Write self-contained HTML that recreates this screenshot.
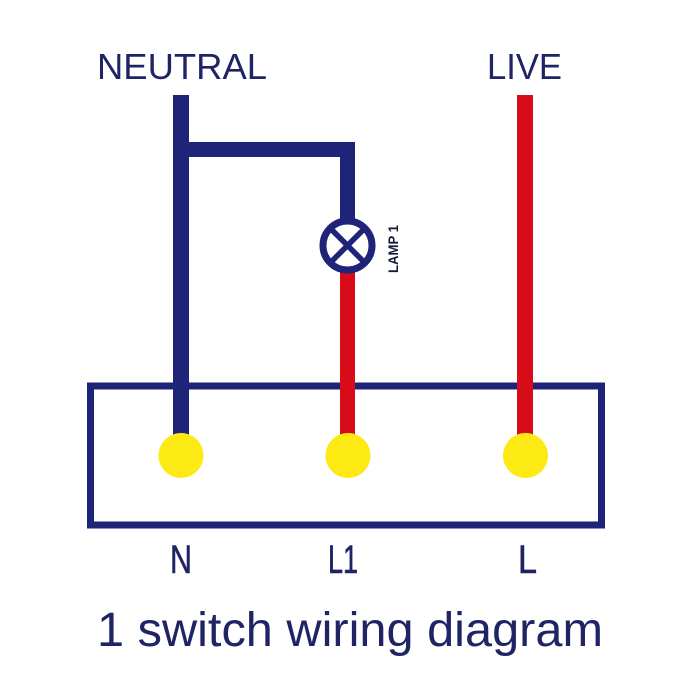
<!DOCTYPE html>
<html>
<head>
<meta charset="utf-8">
<style>
html,body{margin:0;padding:0;background:#fff;}
svg{display:block;}
text{font-family:"Liberation Sans",sans-serif;fill:#1f2465;}
</style>
</head>
<body>
<svg width="700" height="700" viewBox="0 0 700 700" xmlns="http://www.w3.org/2000/svg">
  <rect x="0" y="0" width="700" height="700" fill="#fff"/>
  <!-- titles -->
  <text x="97" y="79" font-size="36" textLength="170" lengthAdjust="spacingAndGlyphs">NEUTRAL</text>
  <text x="487" y="79" font-size="36" textLength="75" lengthAdjust="spacingAndGlyphs">LIVE</text>

  <!-- box -->
  <rect x="90.5" y="386" width="511" height="139" fill="none" stroke="#1e2478" stroke-width="7"/>

  <!-- neutral wire -->
  <rect x="173" y="95" width="16" height="345" fill="#1e2478"/>
  <rect x="173" y="142" width="182" height="15" fill="#1e2478"/>
  <rect x="340" y="142" width="15" height="84" fill="#1e2478"/>

  <!-- red L1 wire -->
  <rect x="340" y="268" width="15" height="172" fill="#d70c18"/>
  <!-- live wire -->
  <rect x="517" y="95" width="16" height="345" fill="#d70c18"/>

  <!-- lamp -->
  <circle cx="347.5" cy="245.5" r="24.5" fill="#fff" stroke="#1e2478" stroke-width="7"/>
  <line x1="330.5" y1="228.5" x2="364.5" y2="262.5" stroke="#1e2478" stroke-width="5.5"/>
  <line x1="364.5" y1="228.5" x2="330.5" y2="262.5" stroke="#1e2478" stroke-width="5.5"/>
  <text transform="translate(398,273) rotate(-90)" font-size="14" font-weight="bold" textLength="48" lengthAdjust="spacingAndGlyphs" style="fill:#15183a">LAMP 1</text>

  <!-- terminals -->
  <circle cx="181" cy="455.5" r="22.5" fill="#fdea14"/>
  <circle cx="348" cy="455.5" r="22.5" fill="#fdea14"/>
  <circle cx="525.5" cy="455.5" r="22.5" fill="#fdea14"/>

  <!-- terminal labels -->
  <text x="170" y="573" font-size="40" textLength="22" lengthAdjust="spacingAndGlyphs" stroke="#1f2465" stroke-width="0.6">N</text>
  <text x="328" y="573" font-size="40" textLength="30" lengthAdjust="spacingAndGlyphs" stroke="#1f2465" stroke-width="0.6">L1</text>
  <text x="518" y="573" font-size="40" textLength="19" lengthAdjust="spacingAndGlyphs" stroke="#1f2465" stroke-width="0.6">L</text>

  <!-- caption -->
  <text x="97" y="646" font-size="48" textLength="506" lengthAdjust="spacingAndGlyphs">1 switch wiring diagram</text>
</svg>
</body>
</html>
